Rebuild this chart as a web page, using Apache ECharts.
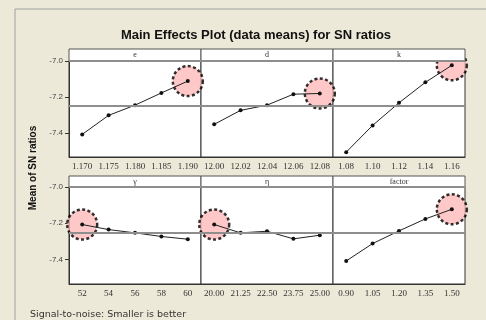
<!DOCTYPE html>
<html>
<head>
<meta charset="utf-8">
<script src="https://cdn.jsdelivr.net/npm/echarts@6/dist/echarts.min.js"></script>
<style>
  html, body { margin: 0; padding: 0; background: #ECE9D8; }
  #chart { width: 486px; height: 320px; }
</style>
</head>
<body>
<div id="chart"></div>
<script>
// factor names and their level labels / mean SN ratios
const factorNames = ['e', 'd', 'k', 'γ', 'η', 'factor']
const eLevels = ['1.170', '1.175', '1.180', '1.185', '1.190']
const eMeans = [-7.409, -7.303, -7.246, -7.178, -7.112]
const dLevels = ['12.00', '12.02', '12.04', '12.06', '12.08']
const dMeans = [-7.353, -7.275, -7.246, -7.185, -7.181]
const kLevels = ['1.08', '1.10', '1.12', '1.14', '1.16']
const kMeans = [-7.508, -7.359, -7.233, -7.119, -7.024]
const gammaLevels = ['52', '54', '56', '58', '60']
const gammaMeans = [-7.207, -7.235, -7.253, -7.273, -7.288]
const etaLevels = ['20.00', '21.25', '22.50', '23.75', '25.00']
const etaMeans = [-7.207, -7.253, -7.244, -7.286, -7.266]
const factorLevels = ['0.90', '1.05', '1.20', '1.35', '1.50']
const factorMeans = [-7.408, -7.312, -7.242, -7.176, -7.123]
const yTicks = [-7.4, -7.2, -7.0]

const levels = [eLevels, dLevels, kLevels, gammaLevels, etaLevels, factorLevels]
const means = [eMeans, dMeans, kMeans, gammaMeans, etaMeans, factorMeans]

const allValues = means.flat()
const grandMean = allValues.reduce((a, b) => a + b, 0) / allValues.length

// layout
const colLeft = [69, 201, 333]
const colWidth = 132
const rowTop = [61, 187]
const rowHeight = [96, 97]
const headTop = [49, 176]

const chart = echarts.init(document.getElementById('chart'))

let grids = [], xAxes = [], yAxes = [], series = []
let graphics = [
  { type: 'rect', shape: { x: 15, y: 9, width: 490, height: 330 },
    style: { fill: '#ECE9D8', stroke: '#A0A0A0', lineWidth: 1 }, z: -10 }
]

for (let i = 0; i < 6; i++) {
  const col = i % 3, row = Math.floor(i / 3)
  grids.push({
    left: colLeft[col], top: rowTop[row], width: colWidth, height: rowHeight[row],
    show: true, backgroundColor: '#fff', borderColor: '#333', borderWidth: 1
  })
  xAxes.push({
    type: 'category', gridIndex: i, data: levels[i], boundaryGap: true,
    axisLine: { show: true, lineStyle: { color: '#333' } },
    axisTick: { alignWithLabel: true, length: 3, lineStyle: { color: '#333' } },
    axisLabel: { margin: 5, fontFamily: 'Liberation Serif', fontSize: 9, color: '#333' }
  })
  yAxes.push({
    type: 'value', gridIndex: i, min: -7.535, max: -7.0,
    splitLine: { show: false },
    axisLine: { show: col === 0, lineStyle: { color: '#333' } },
    axisTick: { show: col === 0, customValues: yTicks, length: 4, lineStyle: { color: '#333' } },
    axisLabel: {
      show: col === 0, customValues: yTicks, margin: 6,
      fontFamily: 'Liberation Sans', fontSize: 8, color: '#444',
      formatter: v => v.toFixed(1)
    }
  })

  const vals = means[i]
  const best = vals.indexOf(Math.max(...vals))
  series.push({
    type: 'scatter', xAxisIndex: i, yAxisIndex: i, clip: false, z: 2,
    data: [[best, vals[best]]], symbolSize: 30, silent: true,
    itemStyle: { color: '#FFBABA', borderColor: '#000', borderWidth: 2.5, borderType: [3, 2.4] }
  })
  series.push({
    type: 'line', xAxisIndex: i, yAxisIndex: i, data: vals, z: 3,
    symbol: 'circle', symbolSize: 4, showSymbol: true,
    itemStyle: { color: '#111' }, lineStyle: { color: '#222', width: 1 },
    markLine: {
      silent: true, symbol: 'none', label: { show: false },
      lineStyle: { color: '#8E8E8E', width: 2, type: 'solid' },
      data: [{ yAxis: grandMean }]
    }
  })

  // header strip
  graphics.push({
    type: 'rect', z: 5,
    shape: { x: colLeft[col], y: headTop[row], width: colWidth, height: rowTop[row] - headTop[row] },
    style: { fill: '#fff', stroke: '#555', lineWidth: 1 }
  })
  graphics.push({
    type: 'line', z: 6,
    shape: { x1: colLeft[col], y1: rowTop[row], x2: colLeft[col] + colWidth, y2: rowTop[row] },
    style: { stroke: '#8E8E8E', lineWidth: 2 }
  })
  graphics.push({
    type: 'text', z: 7, x: colLeft[col] + colWidth / 2, y: (headTop[row] + rowTop[row]) / 2,
    style: {
      text: factorNames[i], align: 'center', verticalAlign: 'middle',
      font: '8px "Liberation Serif"', fill: '#333'
    }
  })
}

const option = {
  backgroundColor: '#ECE9D8',
  animation: false,
  title: [
    {
      text: 'Main Effects Plot (data means) for SN ratios',
      left: 251, top: 24, textAlign: 'center',
      textStyle: { fontFamily: 'Liberation Sans', fontWeight: 'bold', fontSize: 13, color: '#111' }
    },
    {
      text: 'Signal-to-noise: Smaller is better',
      left: 25, top: 305,
      textStyle: { fontFamily: 'DejaVu Sans', fontWeight: 'normal', fontSize: 9.5, color: '#333' }
    }
  ],
  graphic: graphics.concat([{
    type: 'text', x: 33, y: 168, rotation: Math.PI / 2, z: 7,
    style: {
      text: 'Mean of SN ratios', align: 'center', verticalAlign: 'middle',
      font: 'bold 10px "Liberation Sans"', fill: '#111'
    }
  }]),
  grid: grids,
  xAxis: xAxes,
  yAxis: yAxes,
  series: series
}

chart.setOption(option)
</script>
</body>
</html>
